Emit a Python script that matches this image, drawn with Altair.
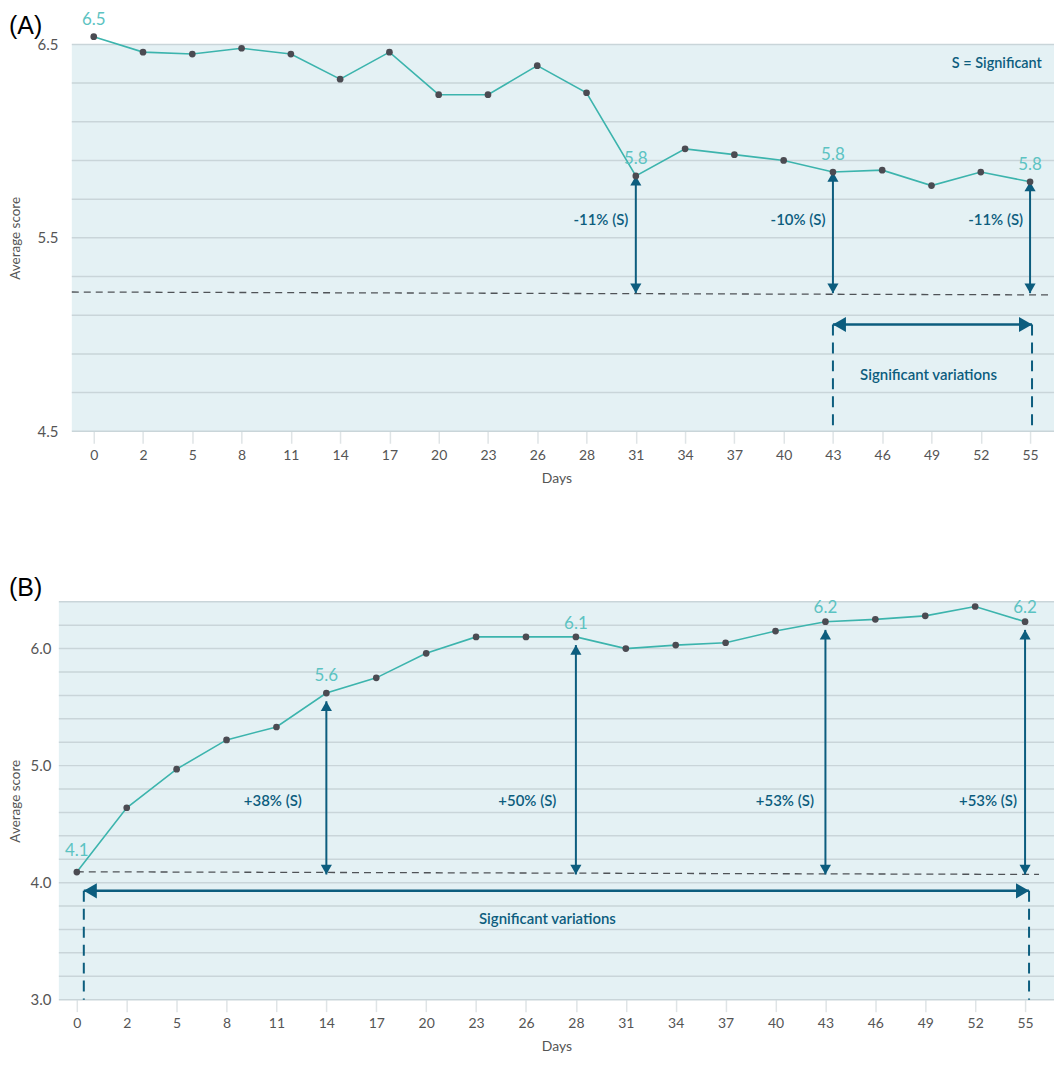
import altair as alt
import pandas as pd

# ---------------- data ----------------
days = ["0", "2", "5", "8", "11", "14", "17", "20", "23", "26",
        "28", "31", "34", "37", "40", "43", "46", "49", "52", "55"]
score_a = [6.54, 6.46, 6.45, 6.48, 6.45, 6.32, 6.46, 6.24, 6.24, 6.39,
           6.25, 5.82, 5.96, 5.93, 5.90, 5.84, 5.85, 5.77, 5.84, 5.79]
score_b = [4.09, 4.64, 4.97, 5.22, 5.33, 5.62, 5.75, 5.96, 6.10, 6.10,
           6.10, 6.00, 6.03, 6.05, 6.15, 6.23, 6.25, 6.28, 6.36, 6.23]

# value labels shown above selected points
lab_a_idx = [0, 11, 15, 19]
lab_a_txt = ["6.5", "5.8", "5.8", "5.8"]
lab_b_idx = [0, 5, 10, 15, 19]
lab_b_txt = ["4.1", "5.6", "6.1", "6.2", "6.2"]
lab_b_y = [4.27, 5.77, 6.21, 6.35, 6.35]

# change arrows (day index, text, text anchor)
arr_a_idx = [11, 15, 19]
arr_a_txt = ["-11% (S)", "-10% (S)", "-11% (S)"]
arr_a_txt_x = [10.85, 14.85, 18.86]
arr_a_txt_y = 5.59
arr_a_bottom = 5.214
arr_b_idx = [5, 10, 15, 19]
arr_b_txt = ["+38% (S)", "+50% (S)", "+53% (S)", "+53% (S)"]
arr_b_txt_x = [4.51, 9.61, 14.77, 18.84]
arr_b_txt_y = 4.70
arr_b_bottom = 4.07
arr_b_gap = 0.07

# dashed reference lines (start idx, end idx, start value, end value)
base_a = [-0.445, 19.465, 5.22, 5.205]
base_b = [0.0, 19.28, 4.093, 4.07]

# significance span (start idx, end idx, level) and its caption (idx, value)
span_a = [15.0, 19.04, 5.052]
span_b = [0.14, 19.08, 3.93]
span_txt_a = [16.94, 4.79]
span_txt_b = [9.43, 3.69]

# shaded panel extent along x (index units)
shade_a = [-0.445, 19.486]
shade_b = [-0.36, 19.58]

yvals_a = [4.5, 4.7, 4.9, 5.1, 5.3, 5.5, 5.7, 5.9, 6.1, 6.3, 6.5]
ylabs_a = [4.5, 5.5, 6.5]
yvals_b = [3.0, 3.2, 3.4, 3.6, 3.8, 4.0, 4.2, 4.4, 4.6, 4.8,
           5.0, 5.2, 5.4, 5.6, 5.8, 6.0, 6.2, 6.4]
ylabs_b = [3.0, 4.0, 5.0, 6.0]

# ---------------- style ----------------
TEAL = "#3cb4ad"
DOT = "#4b4b52"
LABEL_TEAL = "#5cc3c2"
NAVY = "#0c5d7e"
GRID = "#c9d5d9"
BG = "#e4f1f4"
AXIS_TXT = "#555555"
FONT = "Lato"

days_js = "[" + ",".join("'" + d + "'" for d in days) + "]"


def make_panel(scores, xdom, ydom, yvals, ylabs, width, height, lab_pad,
               title_x, labels, arrows, base, span, span_txt, shade, letter,
               letter_x, letter_y, extra_text=None):
    def X(field):
        return alt.X(f"{field}:Q",
                     scale=alt.Scale(domain=xdom, nice=False, zero=False),
                     axis=alt.Axis(values=list(range(len(days))),
                                   labelExpr=f"{days_js}[datum.value]",
                                   grid=False, domain=False, tickSize=12,
                                   tickColor="#dfe4e6", tickWidth=1.5,
                                   labelPadding=5, labelFontSize=14,
                                   labelColor=AXIS_TXT, labelFont=FONT,
                                   labelFlush=False,
                                   title="Days", titleFont=FONT,
                                   titleFontSize=14, titleFontWeight="normal",
                                   titleColor=AXIS_TXT, titlePadding=9))

    lab_js = "[" + ",".join(str(v) for v in ylabs) + "]"

    def Y(field):
        return alt.Y(f"{field}:Q",
                     scale=alt.Scale(domain=ydom, nice=False, zero=False),
                     axis=alt.Axis(values=yvals,
                                   labelExpr=f"indexof({lab_js}, datum.value) >= 0 ? format(datum.value, '.1f') : ''",
                                   grid=False, ticks=False, domain=False,
                                   labelPadding=lab_pad, labelFontSize=15,
                                   labelColor=AXIS_TXT, labelFont=FONT,
                                   title="Average score", titleFont=FONT,
                                   titleFontSize=13.5, titleFontWeight="normal",
                                   titleColor=AXIS_TXT, titleX=title_x,
                                   titleY=height / 2, titleAlign="center",
                                   titleBaseline="middle", titleAngle=270))

    df = pd.DataFrame({"i": list(range(len(days))), "v": scores})

    lab_idx, lab_txt, lab_y, lab_dy = labels
    if lab_y is None:
        lab_y = [scores[k] for k in lab_idx]
    df_lab = pd.DataFrame({"i": lab_idx, "t": lab_txt, "v": lab_y})

    a_idx, a_txt, a_tx, a_ty, a_bottom, a_gap = arrows
    df_arr = pd.DataFrame({"i": a_idx,
                           "top": [scores[k] - a_gap for k in a_idx],
                           "bot": [a_bottom] * len(a_idx)})
    df_arr_txt = pd.DataFrame({"i": a_tx, "t": a_txt, "v": [a_ty] * len(a_idx)})

    df_base = pd.DataFrame({"x0": [base[0]], "x1": [base[1]],
                            "y0": [base[2]], "y1": [base[3]]})
    df_span = pd.DataFrame({"x0": [span[0]], "x1": [span[1]], "v": [span[2]]})
    df_span_v = pd.DataFrame({"i": [span[0], span[1]],
                              "v": [span[2], span[2]],
                              "b": [ydom[0], ydom[0]]})
    df_span_txt = pd.DataFrame({"i": [span_txt[0]], "v": [span_txt[1]],
                                "t": ["Significant variations"]})
    df_bg = pd.DataFrame({"x0": [shade[0]], "x1": [shade[1]],
                          "y0": [ydom[0]], "y1": [ydom[1]]})
    df_grid = pd.DataFrame({"x0": [shade[0]] * len(yvals),
                            "x1": [shade[1]] * len(yvals), "v": yvals})

    layers = []
    # shaded panel + grid
    layers.append(alt.Chart(df_bg).mark_rect(color=BG, opacity=1).encode(
        x=X("x0"), x2="x1", y=Y("y0"), y2="y1"))
    layers.append(alt.Chart(df_grid).mark_rule(color=GRID, strokeWidth=1.5).encode(
        x=X("x0"), x2="x1", y=Y("v")))
    # dashed reference line
    layers.append(alt.Chart(df_base).mark_rule(strokeDash=[7, 5], color="#4f5357",
                                               strokeWidth=1.3).encode(
        x=X("x0"), x2="x1", y=Y("y0"), y2="y1"))
    # significance span verticals
    layers.append(alt.Chart(df_span_v).mark_rule(strokeDash=[11, 7], color=NAVY,
                                                 strokeWidth=2).encode(
        x=X("i"), y=Y("v"), y2="b"))
    # span horizontal arrow
    layers.append(alt.Chart(df_span).mark_rule(color=NAVY, strokeWidth=2.5).encode(
        x=X("x0"), x2="x1", y=Y("v")))
    layers.append(alt.Chart(df_span).mark_point(shape="triangle-left", filled=True,
                                                size=230, color=NAVY, opacity=1,
                                                xOffset=6.5).encode(
        x=X("x0"), y=Y("v")))
    layers.append(alt.Chart(df_span).mark_point(shape="triangle-right", filled=True,
                                                size=230, color=NAVY, opacity=1,
                                                xOffset=-6.5).encode(
        x=X("x1"), y=Y("v")))
    layers.append(alt.Chart(df_span_txt).mark_text(color=NAVY, fontSize=15,
                                                   fontWeight=600, font=FONT).encode(
        x=X("i"), y=Y("v"), text="t:N"))
    # change arrows
    layers.append(alt.Chart(df_arr).mark_rule(color=NAVY, strokeWidth=2).encode(
        x=X("i"), y=Y("top"), y2="bot"))
    layers.append(alt.Chart(df_arr).mark_point(shape="triangle-up", filled=True,
                                               size=125, color=NAVY, opacity=1,
                                               yOffset=4.8).encode(
        x=X("i"), y=Y("top")))
    layers.append(alt.Chart(df_arr).mark_point(shape="triangle-down", filled=True,
                                               size=125, color=NAVY, opacity=1,
                                               yOffset=-4.8).encode(
        x=X("i"), y=Y("bot")))
    layers.append(alt.Chart(df_arr_txt).mark_text(color=NAVY, fontSize=15,
                                                  fontWeight=600, font=FONT,
                                                  align="right").encode(
        x=X("i"), y=Y("v"), text="t:N"))
    # series
    layers.append(alt.Chart(df).mark_line(color=TEAL, strokeWidth=1.6).encode(
        x=X("i"), y=Y("v")))
    layers.append(alt.Chart(df).mark_circle(color=DOT, size=45, opacity=1).encode(
        x=X("i"), y=Y("v")))
    layers.append(alt.Chart(df_lab).mark_text(color=LABEL_TEAL, fontSize=17,
                                              font=FONT, dy=lab_dy).encode(
        x=X("i"), y=Y("v"), text="t:N"))
    if extra_text is not None:
        df_ex = pd.DataFrame({"i": [extra_text[0]], "v": [extra_text[1]],
                              "t": [extra_text[2]]})
        layers.append(alt.Chart(df_ex).mark_text(color=NAVY, fontSize=14.5,
                                                 fontWeight=600, font=FONT,
                                                 align="right").encode(
            x=X("i"), y=Y("v"), text="t:N"))
    # panel letter
    layers.append(alt.Chart(pd.DataFrame({"t": [letter]})).mark_text(
        align="left", baseline="middle", font="Liberation Sans", fontSize=25,
        color="black").encode(x=alt.value(letter_x), y=alt.value(letter_y),
                              text="t:N"))

    return alt.layer(*layers).properties(width=width, height=height)


panel_a = make_panel(score_a, [-0.708, 19.486], [4.5, 6.5], yvals_a, ylabs_a,
                     998, 388, 1, -43,
                     (lab_a_idx, lab_a_txt, None, -17),
                     (arr_a_idx, arr_a_txt, arr_a_txt_x, arr_a_txt_y, arr_a_bottom, 0.0),
                     base_a, span_a, span_txt_a, shade_a, "(A)", -50, -18,
                     extra_text=(19.24, 6.40, "S = Significant"))

panel_b = make_panel(score_b, [-0.36, 19.58], [3.0, 6.4], yvals_b, ylabs_b,
                     998, 399, 8, -43,
                     (lab_b_idx, lab_b_txt, lab_b_y, 0),
                     (arr_b_idx, arr_b_txt, arr_b_txt_x, arr_b_txt_y, arr_b_bottom, arr_b_gap),
                     base_b, span_b, span_txt_b, shade_b, "(B)", -50, -14)

chart = alt.vconcat(panel_a, panel_b, spacing=171).properties(
    bounds="flush", padding=0
).configure_view(fill="transparent", stroke="transparent")

chart.save("out.html", embed_options={"renderer": "svg", "actions": False})
